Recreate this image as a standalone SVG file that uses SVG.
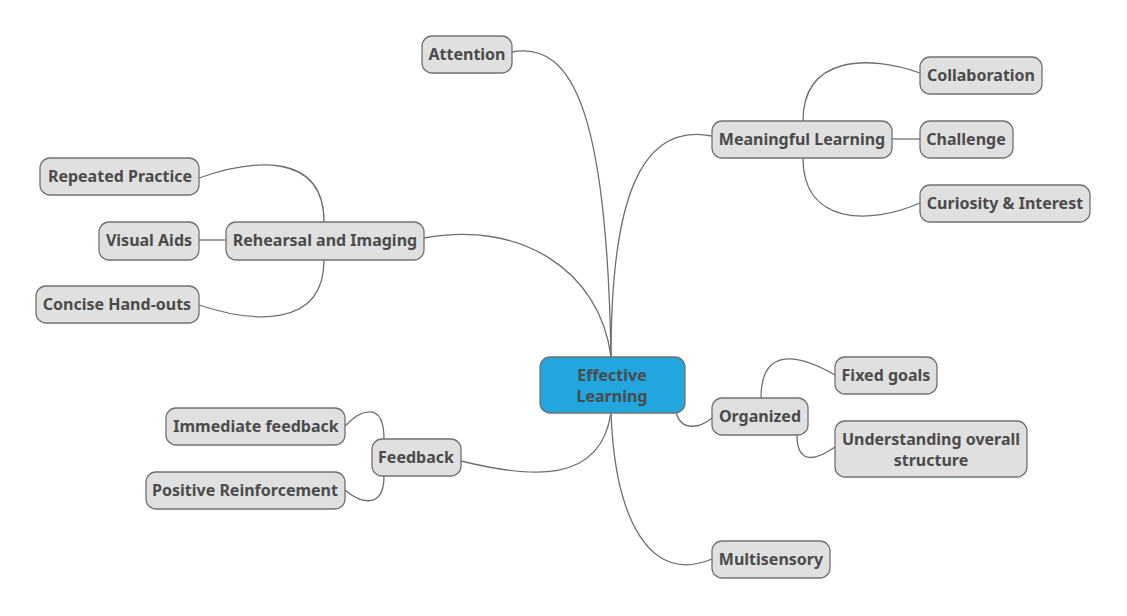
<svg xmlns="http://www.w3.org/2000/svg" width="1127" height="616" viewBox="0 0 1127 616">
<style>
.n{fill:#e0e0e0;stroke:#717171;stroke-width:1.3}
.r{fill:#21a6de;stroke:#717171;stroke-width:1.3}
text{font-family:"Noto Sans","Open Sans",sans-serif;font-weight:bold;font-size:16px;fill:#4b4b4b;text-anchor:middle;dominant-baseline:central}
.c path{fill:none;stroke:#6e6e6e;stroke-width:1.3}
</style>
<rect width="1127" height="616" fill="#fff"/>
<g class="c" id="connectors">
<path d="M611 357 C607 120 575 40 512 52"/>
<path d="M611 357 C611 200 640 122 712 136"/>
<path d="M611 357 C600 270 520 220 424 238"/>
<path d="M676 412 C681 432 700 428 712 418"/>
<path d="M611 413 C615 520 650 585 712 559"/>
<path d="M611 413 C600 485 530 478 461 461"/>
<path d="M803 121 C803 55 870 55 920 73"/>
<path d="M892 139 L920 139"/>
<path d="M803 158 C803 225 870 225 920 203"/>
<path d="M324 222 C324 150 250 160 199 178"/>
<path d="M199 240 L226 240"/>
<path d="M324 260 C324 330 250 322 199 305"/>
<path d="M761 398 C761 345 800 355 835 375"/>
<path d="M797 435 C797 462 812 463 835 447"/>
<path d="M384 439 C384 400 360 410 345 426"/>
<path d="M384 476 C384 510 360 503 345 490"/>
</g>
<g id="root"><rect class="r" x="540" y="357" width="145" height="56" rx="10"/><text x="612" y="375">Effective</text><text x="612" y="396">Learning</text></g>
<g id="attention"><rect class="n" x="422" y="36" width="90" height="37" rx="10"/><text x="467" y="54">Attention</text></g>
<g id="meaningful"><rect class="n" x="712" y="121" width="180" height="37" rx="10"/><text x="802" y="139">Meaningful Learning</text></g>
<g id="collaboration"><rect class="n" x="920" y="57" width="122" height="37" rx="10"/><text x="981" y="75">Collaboration</text></g>
<g id="challenge"><rect class="n" x="920" y="121" width="93" height="37" rx="10"/><text x="966" y="139">Challenge</text></g>
<g id="curiosity"><rect class="n" x="920" y="185" width="170" height="37" rx="10"/><text x="1005" y="203">Curiosity &amp; Interest</text></g>
<g id="rehearsal"><rect class="n" x="226" y="222" width="198" height="38" rx="10"/><text x="325" y="240">Rehearsal and Imaging</text></g>
<g id="repeated"><rect class="n" x="40" y="158" width="159" height="37" rx="10"/><text x="120" y="176">Repeated Practice</text></g>
<g id="visual"><rect class="n" x="99" y="222" width="100" height="38" rx="10"/><text x="149" y="240">Visual Aids</text></g>
<g id="concise"><rect class="n" x="36" y="286" width="163" height="37" rx="10"/><text x="117" y="304">Concise Hand-outs</text></g>
<g id="organized"><rect class="n" x="712" y="398" width="96" height="37" rx="10"/><text x="760" y="416">Organized</text></g>
<g id="fixed"><rect class="n" x="835" y="357" width="102" height="37" rx="10"/><text x="886" y="375">Fixed goals</text></g>
<g id="understanding"><rect class="n" x="835" y="421" width="192" height="56" rx="10"/><text x="931" y="439">Understanding overall</text><text x="931" y="460">structure</text></g>
<g id="feedback"><rect class="n" x="372" y="439" width="89" height="37" rx="10"/><text x="416" y="457">Feedback</text></g>
<g id="immediate"><rect class="n" x="166" y="408" width="179" height="37" rx="10"/><text x="256" y="426">Immediate feedback</text></g>
<g id="positive"><rect class="n" x="146" y="472" width="199" height="37" rx="10"/><text x="245" y="490">Positive Reinforcement</text></g>
<g id="multisensory"><rect class="n" x="712" y="541" width="118" height="37" rx="10"/><text x="771" y="559">Multisensory</text></g>
</svg>
